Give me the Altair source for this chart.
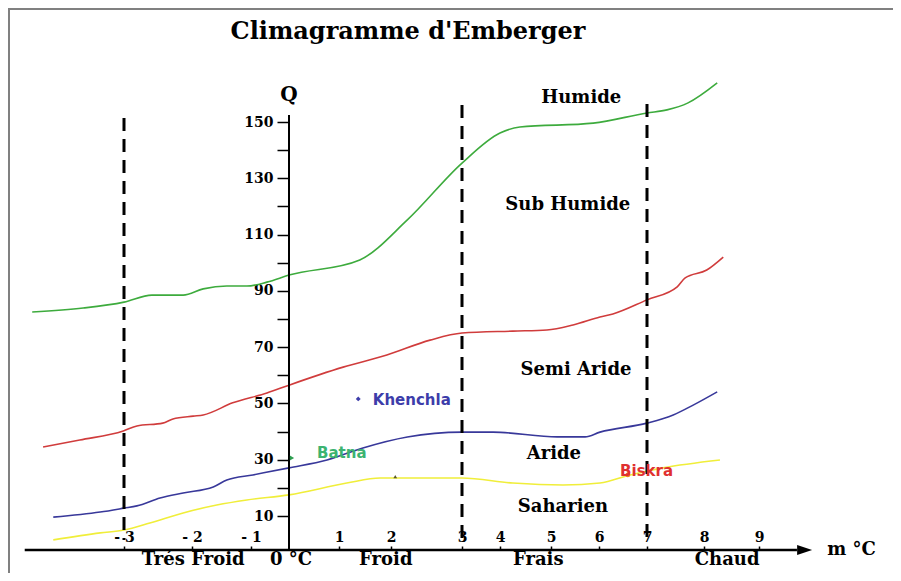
import altair as alt
import pandas as pd

# ---------------- data ----------------
# boundary curves of the Emberger climagram  (m in °C, Q)
humide_x = [-4.35, -3.60, -3.00, -2.59, -2.13, -1.81, -1.41, -1.07, -0.58, 0.00, 1.40, 2.23, 3.00, 4.00, 4.39, 5.88, 7.00, 7.35, 7.72, 8.24]
humide_q = [82.5, 83.9, 86.0, 88.5, 88.5, 90.7, 91.7, 91.7, 93.1, 95.6, 101.0, 115.2, 135.4, 146.1, 148.2, 149.6, 153.2, 154.3, 156.8, 163.9]

semiaride_x = [-4.19, -3.65, -3.01, -2.81, -2.43, -2.28, -1.98, -1.81, -1.31, -0.58, 0.00, 1.08, 1.92, 2.55, 3.00, 4.25, 4.92, 5.46, 6.02, 6.29, 7.00, 7.53, 7.67, 8.05, 8.35]
semiaride_q = [34.5, 37.0, 40.2, 42.0, 43.0, 44.5, 45.5, 45.9, 50.2, 53.7, 56.5, 62.9, 67.2, 72.5, 75.0, 75.7, 76.1, 77.9, 80.7, 81.8, 86.8, 91.4, 94.6, 97.4, 102.0]

aride_x = [-4.04, -3.35, -3.00, -2.81, -2.47, -2.13, -1.64, -1.41, -0.95, 0.00, 0.76, 1.46, 2.23, 3.00, 3.82, 5.13, 5.71, 6.02, 7.00, 7.46, 7.81, 8.24]
aride_q = [9.6, 11.4, 12.8, 13.6, 16.4, 18.2, 20.3, 22.8, 24.6, 27.1, 29.9, 34.2, 38.1, 39.8, 39.8, 38.1, 38.1, 39.8, 43.0, 45.9, 49.4, 54.1]

saharien_x = [-4.04, -3.35, -3.00, -2.62, -2.13, -1.58, -1.07, 0.00, 1.15, 1.79, 3.00, 4.25, 5.25, 6.02, 6.65, 7.28, 8.29]
saharien_q = [1.5, 4.0, 5.0, 7.5, 11.1, 13.9, 15.7, 17.5, 21.7, 23.5, 23.5, 21.7, 21.0, 21.7, 24.6, 27.1, 29.9]

curve_names = ["Humide", "Semi Aride", "Aride", "Saharien"]
curve_colors = ["#3dab3d", "#d03c3c", "#38389a", "#f0ee3a"]

# stations
station_names = ["Khenchla", "Batna", "Biskra"]
station_x = [1.37, 0.06, 6.60]
station_q = [51.6, 30.6, 24.6]
station_label_x = [1.65, 0.56, 6.44]
station_label_q = [51.2, 32.4, 26.0]
station_colors = ["#3d3daa", "#3cb371", "#e03030"]
station_marker_colors = ["#3d3daa", "#2e9e50", "#f08020"]
extra_marker_x = [2.06]
extra_marker_q = [24.0]

# thermal limits (dashed verticals)
limit_x = [-3, 3, 7]
limit_top = [151.4, 156.0, 156.4]
limit_bottom = [1.5, -0.3, -0.3]

# bioclimatic zone labels
zone_labels = ["Humide", "Sub Humide", "Semi Aride", "Aride", "Saharien"]
zone_x = [5.63, 5.35, 5.52, 5.06, 5.25]
zone_q = [158.5, 120.5, 61.9, 32.0, 13.2]

# winter variant labels under the axis
winter_labels = ["Trés Froid", "0 °C", "Froid", "Frais", "Chaud"]
winter_x = [-1.98, 0.04, 1.90, 4.75, 8.42]
winter_q = [-5.6, -5.6, -5.6, -5.6, -5.6]

x_tick_values = [-3, -2, -1, 1, 2, 3, 4, 5, 6, 7, 8, 9]
y_tick_values = [10, 20, 30, 40, 50, 60, 70, 80, 90, 100, 110, 120, 130, 140, 150]

# ---------------- tables ----------------
rows = []
for name, xs_, qs_ in zip(curve_names,
                          [humide_x, semiaride_x, aride_x, saharien_x],
                          [humide_q, semiaride_q, aride_q, saharien_q]):
    for i, (a, b) in enumerate(zip(xs_, qs_)):
        rows.append({"curve": name, "i": i, "x": a, "q": b})
curves = pd.DataFrame(rows)

stations = pd.DataFrame({"name": station_names, "x": station_x, "q": station_q,
                         "lx": station_label_x, "lq": station_label_q,
                         "col": station_colors, "mcol": station_marker_colors})
extra = pd.DataFrame({"x": extra_marker_x, "q": extra_marker_q})
limits = pd.DataFrame({"x": limit_x, "q": limit_top, "q2": limit_bottom})
zones = pd.DataFrame({"t": zone_labels, "x": zone_x, "q": zone_q})
winters = pd.DataFrame({"t": winter_labels, "x": winter_x, "q": winter_q})

# ---------------- layout: plot origin sits where the two axes cross ----------------
PAD_L, PAD_T = 281, 542
W, H = 604, 23
# hand-drawn, irregular x axis -> piecewise linear scale
X_BREAKS = [-3, -2, -1, 0, 1, 2, 3, 4, 5, 6, 7, 8, 9]
X_PIXELS = [-165, -97, -38, 0, 50, 102, 173, 211, 262, 310, 358, 415, 470]
xs = alt.Scale(domain=X_BREAKS, range=X_PIXELS, nice=False, zero=False)
ys = alt.Scale(domain=[10, 150], range=[-34, -428], nice=False, zero=False)

SERIF = "DejaVu Serif"
SANS = "DejaVu Sans"

AX_X = alt.Axis(
    orient="top", values=x_tick_values, title=None,
    labelExpr="datum.value < 0 ? '- ' + abs(datum.value) : datum.label",
    domain=False, grid=False, tickSize=4, tickWidth=1.5, tickColor="black",
    labelFont=SERIF, labelFontWeight="bold", labelFontSize=14, labelColor="black",
    labelPadding=2, labelFlush=False, labelOverlap=False)
AX_Y = alt.Axis(
    orient="left", values=y_tick_values, title=None,
    labelExpr="datum.value % 20 == 10 ? datum.label : ''",
    domain=False, grid=False, tickSize=12, tickWidth=1.5, tickColor="black",
    labelFont=SERIF, labelFontWeight="bold", labelFontSize=14, labelColor="black",
    labelPadding=4, labelFlush=False, labelOverlap=False)

# every layer shares the same scales and the same axis definition
X = lambda f="x": alt.X(f"{f}:Q", scale=xs, axis=AX_X)
Y = lambda f="q": alt.Y(f"{f}:Q", scale=ys, axis=AX_Y)

lines = alt.Chart(curves).mark_line(strokeWidth=1.6, interpolate="monotone").encode(
    x=X(), y=Y(),
    color=alt.Color("curve:N", scale=alt.Scale(domain=curve_names, range=curve_colors), legend=None),
    order="i:Q",
)

dashed = alt.Chart(limits).mark_rule(color="black", strokeWidth=3, strokeDash=[13, 8]).encode(
    x=X(), y=Y(), y2="q2:Q")

yaxis_line = alt.Chart(pd.DataFrame({"x": [0], "q": [-2.1], "q2": [152.5]})).mark_rule(
    color="black", strokeWidth=2).encode(x=X(), y=Y(), y2="q2:Q")
xaxis_line = alt.Chart(pd.DataFrame({"x": [-4.46], "x2": [9.69], "q": [-2.1]})).mark_rule(
    color="black", strokeWidth=2.5).encode(x=X(), x2="x2:Q", y=Y())
arrow = alt.Chart(pd.DataFrame({"x": [9.83], "q": [-2.1]})).mark_point(
    shape="M-1,-0.67L1,0L-1,0.67Z", size=225, filled=True, color="black", opacity=1).encode(x=X(), y=Y())

frame_top = alt.Chart(pd.DataFrame({"a": [0]})).mark_rule(color="#808080", strokeWidth=2).encode(
    x=alt.value(-PAD_L), x2=alt.value(W), y=alt.value(1 - PAD_T))
frame_left = alt.Chart(pd.DataFrame({"a": [0]})).mark_rule(color="#808080", strokeWidth=2).encode(
    x=alt.value(1 - PAD_L), y=alt.value(-PAD_T), y2=alt.value(H))

st_marks = alt.Chart(stations).mark_point(filled=True, opacity=1, size=24).encode(
    x=X(), y=Y(),
    color=alt.Color("mcol:N", scale=None, legend=None),
    shape=alt.Shape("name:N", scale=alt.Scale(domain=station_names,
                                              range=["diamond", "triangle-right", "circle"]), legend=None),
)
extra_mark = alt.Chart(extra).mark_point(filled=True, opacity=1, size=14, shape="triangle-up",
                                         color="#5a5a2a").encode(x=X(), y=Y())
st_text = alt.Chart(stations).mark_text(font=SANS, fontWeight="bold", fontSize=15,
                                        align="left", baseline="middle").encode(
    x=X("lx"), y=Y("lq"), text="name:N", color=alt.Color("col:N", scale=None, legend=None))

zone_text = alt.Chart(zones).mark_text(font=SERIF, fontWeight="bold", fontSize=18, color="black",
                                       align="center", baseline="middle").encode(x=X(), y=Y(), text="t:N")
winter_text = alt.Chart(winters).mark_text(font=SERIF, fontWeight="bold", fontSize=18, color="black",
                                           align="center", baseline="middle").encode(x=X(), y=Y(), text="t:N")
q_text = alt.Chart(pd.DataFrame({"t": ["Q"], "x": [0], "q": [159.6]})).mark_text(
    font=SERIF, fontWeight="bold", fontSize=20, color="black", align="center", baseline="middle").encode(
    x=X(), y=Y(), text="t:N")
m_text = alt.Chart(pd.DataFrame({"t": ["m °C"], "x": [10.24], "q": [-2.1]})).mark_text(
    font=SERIF, fontWeight="bold", fontSize=18, color="black", align="left", baseline="middle").encode(
    x=X(), y=Y(), text="t:N")
title_text = alt.Chart(pd.DataFrame({"t": ["Climagramme d'Emberger"]})).mark_text(
    font=SERIF, fontWeight="bold", fontSize=24, color="black", align="center", baseline="middle").encode(
    x=alt.value(408 - 289), y=alt.value(32 - 550), text="t:N")

chart = alt.layer(
    lines, frame_top, frame_left, dashed, yaxis_line, xaxis_line, arrow,
    extra_mark, st_marks, st_text, zone_text, winter_text, q_text, m_text, title_text
).properties(
    width=W, height=H,
    autosize=alt.AutoSizeParams(type="none"),
    padding={"left": PAD_L, "top": PAD_T, "right": 0, "bottom": 0},
    background="white",
).configure_view(stroke=None)

chart.save("out.html", embed_options={"renderer": "svg", "actions": False})
